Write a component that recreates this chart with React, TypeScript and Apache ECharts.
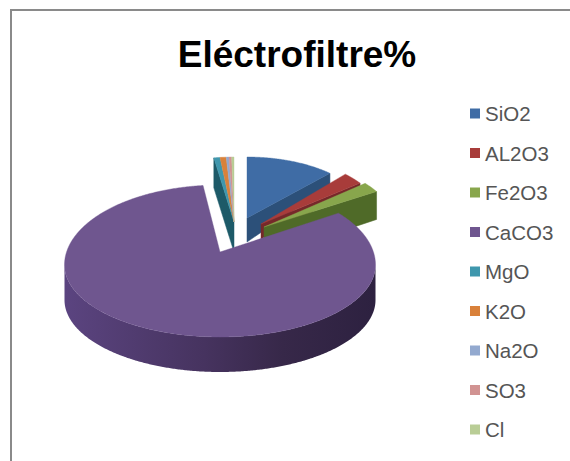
import React, { useEffect, useRef } from "react";
import * as echarts from "echarts";

const titleText = "Eléctrofiltre%";
const categories = ["SiO2", "AL2O3", "Fe2O3", "CaCO3", "MgO", "K2O", "Na2O", "SO3", "Cl"];
const percentages = [11.9, 2.5, 1.6, 81.4, 0.8, 0.8, 0.35, 0.35, 0.3];

const topColors = ["#3f6ca5", "#a83c3a", "#88a64c", "#6f568f", "#3f97ad", "#d9813a", "#93a9cf", "#d19392", "#b9cd96"];
const wallColors = ["#2c5079", "#76282a", "#4f6a28", "#3f2f56", "#1d5a68", "#1d5a68", "#1d5a68", "#1d5a68", "#1d5a68"];

// Projection of each slice: apex, rim ellipse and the perspective corrections of the 3-D view.
const SMALL = { cx: 234, cy: 222, ey: 222, rx: 124, ryTop: 65, ryBottom: 65, depthRim: 30, depthApex: 30, startAdj: 0, endAdj: 0 };
const layout = [
  { cx: 247, cy: 218, ey: 218, rx: 122, ryTop: 61, ryBottom: 61, depthRim: 12, depthApex: 24, startAdj: 0, endAdj: 0 },
  { cx: 261, cy: 224, ey: 224, rx: 124, ryTop: 68, ryBottom: 68, depthRim: 3, depthApex: 15, startAdj: 0, endAdj: 1.2 },
  { cx: 264, cy: 227, ey: 227, rx: 132, ryTop: 68, ryBottom: 68, depthRim: 28, depthApex: 30, startAdj: -1.8, endAdj: 0.9 },
  { cx: 220, cy: 252, ey: 265, rx: 155.5, ryTop: 80, ryBottom: 72, depthRim: 35, depthApex: 35, startAdj: -8, endAdj: 3.1 },
  SMALL, SMALL, SMALL, SMALL, SMALL,
];

const total = percentages.reduce((a, b) => a + b, 0);
const starts: number[] = [];
percentages.reduce((acc, v, i) => {
  starts[i] = acc;
  return acc + (v / total) * 360;
}, 0);

const rad = (d: number) => (d * Math.PI) / 180;

function makeRenderItem(i: number) {
  return (_params: any, api: any) => {
    const sweep = (api.value(0) / total) * 360;
    const g = layout[i];
    const a = starts[i] + g.startAdj;
    const b = starts[i] + sweep + g.endAdj;
    const pt = (deg: number, drop = 0): number[] => {
      const c = Math.cos(rad(deg));
      return [g.cx + g.rx * Math.sin(rad(deg)), g.ey - (c >= 0 ? g.ryTop : g.ryBottom) * c + drop];
    };
    const arc = (from: number, to: number, drop = 0) => {
      const n = Math.max(2, Math.ceil(Math.abs(to - from) * 2));
      const out: number[][] = [];
      for (let k = 0; k <= n; k++) out.push(pt(from + ((to - from) * k) / n, drop));
      return out;
    };
    const apex = [g.cx, g.cy];
    const apexLow = [g.cx, g.cy + g.depthApex];
    const children: any[] = [];
    const face = (deg: number) => {
      children.push({
        type: "polygon",
        shape: { points: [apex, pt(deg), pt(deg, g.depthRim), apexLow] },
        style: { fill: wallColors[i], stroke: wallColors[i], lineWidth: 0.5 },
      });
    };
    if (Math.cos(rad(b + 90)) < -0.001 && layout[i + 1] !== g) face(b);
    if (Math.cos(rad(a - 90)) < -0.001 && layout[i - 1] !== g) face(a);
    const wallFrom = Math.max(a, 90);
    const wallTo = Math.min(b, 270);
    if (wallTo > wallFrom) {
      children.push({
        type: "polygon",
        shape: { points: [...arc(wallFrom, wallTo), ...arc(wallTo, wallFrom, g.depthRim)] },
        style: {
          fill: new echarts.graphic.LinearGradient(0, 0, 1, 0, [
            { offset: 0, color: "#5b4480" },
            { offset: 0.45, color: "#46335f" },
            { offset: 0.7, color: "#372849" },
            { offset: 1, color: "#2d2140" },
          ]),
        },
      });
    }
    children.push({
      type: "polygon",
      shape: { points: [apex, ...arc(a, b)] },
      style: { fill: topColors[i], stroke: topColors[i], lineWidth: 0.4 },
    });
    return { type: "group", children };
  };
}

export default function App() {
  const ref = useRef<HTMLDivElement>(null);
  useEffect(() => {
    const chart = echarts.init(ref.current!, undefined, { renderer: "svg" });
    chart.setOption({
      animation: false,
      backgroundColor: "#ffffff",
      title: {
        text: titleText,
        left: 292,
        top: 31,
        textAlign: "center",
        textStyle: {
          fontFamily: "Liberation Sans",
          fontSize: 37,
          fontWeight: "bold",
          color: "#000000",
        },
      },
      legend: {
        orient: "vertical",
        left: 470,
        top: 103,
        padding: 0,
        itemWidth: 10,
        itemHeight: 10,
        itemGap: 18.5,
        icon: "rect",
        selectedMode: false,
        data: categories,
        textStyle: {
          fontFamily: "Liberation Sans",
          fontSize: 20.5,
          color: "#555555",
        },
      },
      graphic: [
        {
          type: "polyline",
          shape: { points: [[11, 461], [11, 10], [570, 10]] },
          style: { stroke: "#8a8a8a", lineWidth: 2, fill: "none" },
        },
      ],
      series: categories.map((name, i) => ({
        type: "custom",
        name,
        coordinateSystem: "none",
        silent: true,
        z: i === 3 ? 3 : i === 2 ? 2.5 : 2,
        itemStyle: { color: topColors[i] },
        data: [percentages[i]],
        renderItem: makeRenderItem(i),
      })),
    });
    return () => chart.dispose();
  }, []);
  return <div ref={ref} style={{ position: "fixed", left: 0, top: 0, width: 570, height: 461 }} />;
}
